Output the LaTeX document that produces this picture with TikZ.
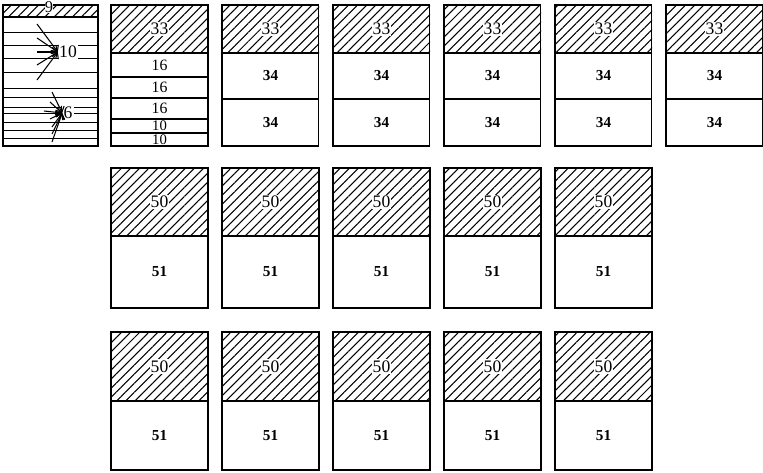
\documentclass[tikz,border=0pt]{standalone}
\usepackage{fontspec}
\setmainfont{Liberation Serif}
\usetikzlibrary{patterns.meta,arrows.meta}
\tikzset{
  hatch/.style={pattern={Lines[angle=45,distance=5.5pt,line width=0.9pt]}},
  slab/.style={draw, line width=1.2pt},
  thinslab/.style={draw, line width=0.7pt},
  tag/.style={font=\fontsize{13.5}{13.5}\selectfont, inner sep=0.5pt},
  hatchtag/.style={font=\fontsize{15}{15}\selectfont, fill=white, inner sep=1pt},
  boldtag/.style={font=\fontsize{13}{13}\selectfont\bfseries, inner sep=0.5pt},
  fan/.style={-{Straight Barb[length=4pt]}, line width=0.9pt},
}
\begin{document}
\begin{tikzpicture}[x=0.03cm,y=-0.03cm]
  \useasboundingbox (0,0) rectangle (763,472);
  % the thin boards
  \fill[hatch] (3,5) rectangle (98,17);
  \foreach \y in {32,45,58,72,88,97,107,113,122,130,138}
    \draw[thinslab] (3,\y) -- (98,\y);
  \draw[slab] (3,17) -- (98,17);
  \draw[slab] (3,5) rectangle (98,146);
  \node[hatchtag, font=\fontsize{14}{14}\selectfont, inner sep=0.3pt] (n9) at (49,7.5) {9};
  \node[tag, font=\fontsize{15}{15}\selectfont, fill=white, inner sep=1pt] (n10) at (68,52) {10};
  \node[tag, font=\fontsize{15}{15}\selectfont, fill=white, inner sep=1pt] (n6) at (68,113) {6};
  \foreach \y in {24,38,52,65,80}
    \draw[fan] (37,\y) -- (n10.west);
  \foreach \y/\x in {92/52,102/50,111/44,119/50,127/52,134/52,142/52}
    \draw[fan] (\x,\y) -- (n6.west);
  % mixed stack
  \fill[hatch] (111,5) rectangle (208,53);
  \draw[slab] (111,5) rectangle (208,146);
  \foreach \y in {53,77,98,119,133}
    \draw[slab] (111,\y) -- (208,\y);
  \node[hatchtag] (m33) at (159.5,29) {33};
  \foreach \i/\y/\t in {1/65/16,2/87.5/16,3/108.5/16} \node[tag] (m\i) at (159.5,\y) {\t};
  \foreach \i/\y/\t in {4/126/10,5/139.5/10} \node[tag, font=\fontsize{12.5}{12.5}\selectfont] (m\i) at (159.5,\y) {\t};
  % row 1, 33/34/34
  \foreach \x in {222,333,444,555,666} {
    \fill[hatch] (\x,5) rectangle (\x+97,53);
    \draw[slab] (\x,5) rectangle (\x+96.5,146);
    \draw[slab] (\x,53) -- (\x+96.5,53);
    \draw[slab] (\x,99) -- (\x+96.5,99);
    \node[hatchtag] (a\x) at (\x+48.5,29) {33};
    \node[boldtag] (b\x) at (\x+48.5,76) {34};
    \node[boldtag] (c\x) at (\x+48.5,122.5) {34};
  }
  % rows 2 and 3, 50/51
  \foreach \r/\t/\m/\b in {2/168/236/308,3/332/401/470} {
    \foreach \x in {111,222,333,444,555} {
      \fill[hatch] (\x,\t) rectangle (\x+97,\m);
      \draw[slab] (\x,\t) rectangle (\x+97,\b);
      \draw[slab] (\x,\m) -- (\x+97,\m);
      \node[hatchtag] (h\r\x) at (\x+48.5,{(\t+\m)/2}) {50};
      \node[boldtag] (w\r\x) at (\x+48.5,{(\m+\b)/2}) {51};
    }
  }
\end{tikzpicture}
\end{document}
